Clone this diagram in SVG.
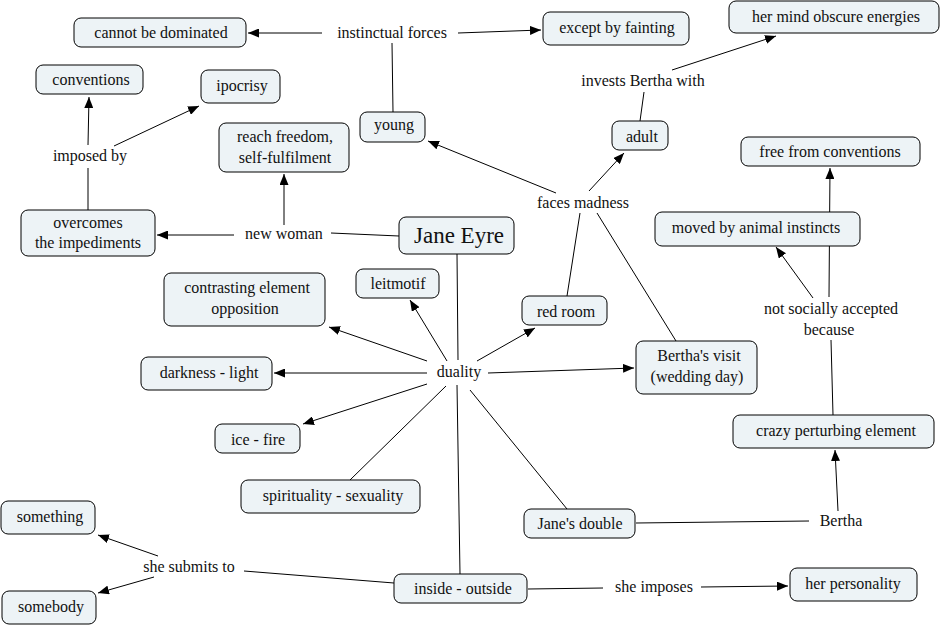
<svg xmlns="http://www.w3.org/2000/svg" width="942" height="626" viewBox="0 0 942 626">
<defs>
<marker id="ah" viewBox="0 0 11 9" refX="11" refY="4.5" markerWidth="11" markerHeight="9" markerUnits="userSpaceOnUse" orient="auto">
<path d="M0,0 L11,4.5 L0,9 z" fill="#000"/>
</marker>
</defs>
<rect width="942" height="626" fill="#fff"/>
<g id="connectors" stroke="#000" stroke-width="1" fill="none">
<line marker-end="url(#ah)" x1="322" y1="33" x2="248" y2="33"/>
<line marker-end="url(#ah)" x1="458" y1="33" x2="541" y2="30"/>
<line x1="393" y1="112" x2="392" y2="43"/>
<line marker-end="url(#ah)" x1="556" y1="193" x2="428" y2="141"/>
<line marker-end="url(#ah)" x1="589" y1="191" x2="624" y2="153"/>
<line x1="640" y1="121" x2="644" y2="92"/>
<line marker-end="url(#ah)" x1="672" y1="70" x2="776" y2="36"/>
<line x1="567" y1="296" x2="580" y2="213"/>
<line x1="676" y1="341" x2="597" y2="213"/>
<line x1="399" y1="236" x2="331" y2="233"/>
<line marker-end="url(#ah)" x1="234" y1="235" x2="157" y2="235"/>
<line marker-end="url(#ah)" x1="284" y1="225" x2="284" y2="174"/>
<line x1="88" y1="210" x2="88" y2="168"/>
<line marker-end="url(#ah)" x1="88" y1="145" x2="89" y2="97"/>
<line marker-end="url(#ah)" x1="114" y1="146" x2="199" y2="106"/>
<line x1="457" y1="254" x2="458" y2="360"/>
<line marker-end="url(#ah)" x1="447" y1="361" x2="410" y2="300"/>
<line marker-end="url(#ah)" x1="427" y1="361" x2="329" y2="327"/>
<line marker-end="url(#ah)" x1="427" y1="373" x2="274" y2="373"/>
<line marker-end="url(#ah)" x1="427" y1="384" x2="303" y2="424"/>
<line x1="446" y1="386" x2="350" y2="480"/>
<line x1="457" y1="385" x2="460" y2="574"/>
<line marker-end="url(#ah)" x1="477" y1="361" x2="535" y2="328"/>
<line marker-end="url(#ah)" x1="488" y1="373" x2="634" y2="368"/>
<line x1="470" y1="390" x2="567" y2="509"/>
<line x1="636" y1="523" x2="809" y2="521"/>
<line marker-end="url(#ah)" x1="838" y1="511" x2="835" y2="450"/>
<line x1="833" y1="415" x2="831" y2="340"/>
<line marker-end="url(#ah)" x1="813" y1="298" x2="776" y2="247"/>
<line marker-end="url(#ah)" x1="829" y1="297" x2="830" y2="168"/>
<line x1="394" y1="583" x2="244" y2="571"/>
<line marker-end="url(#ah)" x1="158" y1="556" x2="98" y2="535"/>
<line marker-end="url(#ah)" x1="154" y1="577" x2="98" y2="593"/>
<line x1="528" y1="589" x2="603" y2="588"/>
<line marker-end="url(#ah)" x1="701" y1="587" x2="788" y2="586"/>
</g>
<g id="nodes">
<g fill="#edf3f6" stroke="#000" stroke-width="1">
<rect id="r-cannot" x="74" y="18" width="172" height="29" rx="7"/>
<rect id="r-fainting" x="543" y="12" width="146" height="33" rx="7"/>
<rect id="r-mind" x="729" y="1" width="210" height="32" rx="7"/>
<rect id="r-conventions" x="36" y="65" width="107" height="29" rx="7"/>
<rect id="r-ipocrisy" x="201" y="70" width="79" height="33" rx="7"/>
<rect id="r-young" x="360" y="112" width="65" height="30" rx="7"/>
<rect id="r-adult" x="612" y="121" width="56" height="29" rx="7"/>
<rect id="r-freedom" x="219" y="123" width="130" height="49" rx="7"/>
<rect id="r-free" x="741" y="137" width="179" height="29" rx="7"/>
<rect id="r-overcomes" x="21" y="210" width="134" height="46" rx="7"/>
<rect id="r-jane" x="399" y="217" width="115" height="37" rx="7"/>
<rect id="r-moved" x="655" y="212" width="205" height="34" rx="7"/>
<rect id="r-contrasting" x="164" y="273" width="161" height="53" rx="7"/>
<rect id="r-leitmotif" x="356" y="269" width="83" height="29" rx="7"/>
<rect id="r-darkness" x="141" y="357" width="131" height="33" rx="7"/>
<rect id="r-ice" x="215" y="424" width="85" height="29" rx="7"/>
<rect id="r-spirit" x="241" y="480" width="179" height="33" rx="7"/>
<rect id="r-something" x="1" y="501" width="94" height="33" rx="7"/>
<rect id="r-somebody" x="2" y="591" width="94" height="33" rx="7"/>
<rect id="r-inside" x="394" y="574" width="133" height="29" rx="7"/>
<rect id="r-redroom" x="522" y="296" width="85" height="29" rx="7"/>
<rect id="r-visit" x="636" y="341" width="121" height="53" rx="7"/>
<rect id="r-crazy" x="733" y="415" width="201" height="33" rx="7"/>
<rect id="r-double" x="524" y="509" width="111" height="29" rx="7"/>
<rect id="r-personality" x="790" y="568" width="127" height="33" rx="7"/>
</g>
<g font-size="16" text-anchor="middle" fill="#111">
<text font-family="Liberation Serif" x="161" y="38">cannot be dominated</text>
<text font-family="Liberation Serif" x="617" y="33">except by fainting</text>
<text font-family="Liberation Serif" x="836" y="22">her mind obscure energies</text>
<text font-family="Liberation Serif" x="91" y="85">conventions</text>
<text font-family="Liberation Serif" x="242" y="91">ipocrisy</text>
<text font-family="Liberation Serif" x="394" y="130">young</text>
<text font-family="Liberation Serif" x="642" y="142">adult</text>
<text font-family="Liberation Serif" x="285" y="142">reach freedom,</text>
<text font-family="Liberation Serif" x="285" y="163">self-fulfilment</text>
<text font-family="Liberation Serif" x="830" y="157">free from conventions</text>
<text font-family="Liberation Serif" x="88" y="228">overcomes</text>
<text font-family="Liberation Serif" x="88" y="248">the impediments</text>
<text font-family="Liberation Serif" x="459" y="243" font-size="23">Jane Eyre</text>
<text font-family="Liberation Serif" x="756" y="233">moved by animal instincts</text>
<text font-family="Liberation Serif" x="247" y="293">contrasting element</text>
<text font-family="Liberation Serif" x="245" y="314">opposition</text>
<text font-family="Liberation Serif" x="398" y="289">leitmotif</text>
<text font-family="Liberation Serif" x="209" y="378">darkness - light</text>
<text font-family="Liberation Serif" x="258" y="445">ice - fire</text>
<text font-family="Liberation Serif" x="333" y="501">spirituality - sexuality</text>
<text font-family="Liberation Serif" x="50" y="522">something</text>
<text font-family="Liberation Serif" x="51" y="612">somebody</text>
<text font-family="Liberation Serif" x="463" y="594">inside - outside</text>
<text font-family="Liberation Serif" x="566" y="317">red room</text>
<text font-family="Liberation Serif" x="699" y="361">Bertha's visit</text>
<text font-family="Liberation Serif" x="697" y="382">(wedding day)</text>
<text font-family="Liberation Serif" x="836" y="436">crazy perturbing element</text>
<text font-family="Liberation Serif" x="580" y="529">Jane's double</text>
<text font-family="Liberation Serif" x="853" y="589">her personality</text>
</g>
</g>
<g id="labels" font-size="16" text-anchor="middle" fill="#111">
<text font-family="Liberation Serif" x="392" y="38">instinctual forces</text>
<text font-family="Liberation Serif" x="643" y="86">invests Bertha with</text>
<text font-family="Liberation Serif" x="90" y="161">imposed by</text>
<text font-family="Liberation Serif" x="284" y="239">new woman</text>
<text font-family="Liberation Serif" x="583" y="208">faces madness</text>
<text font-family="Liberation Serif" x="459" y="377">duality</text>
<text font-family="Liberation Serif" x="831" y="314">not socially accepted</text>
<text font-family="Liberation Serif" x="829" y="335">because</text>
<text font-family="Liberation Serif" x="189" y="572">she submits to</text>
<text font-family="Liberation Serif" x="654" y="592">she imposes</text>
<text font-family="Liberation Serif" x="841" y="526">Bertha</text>
</g>
</svg>
